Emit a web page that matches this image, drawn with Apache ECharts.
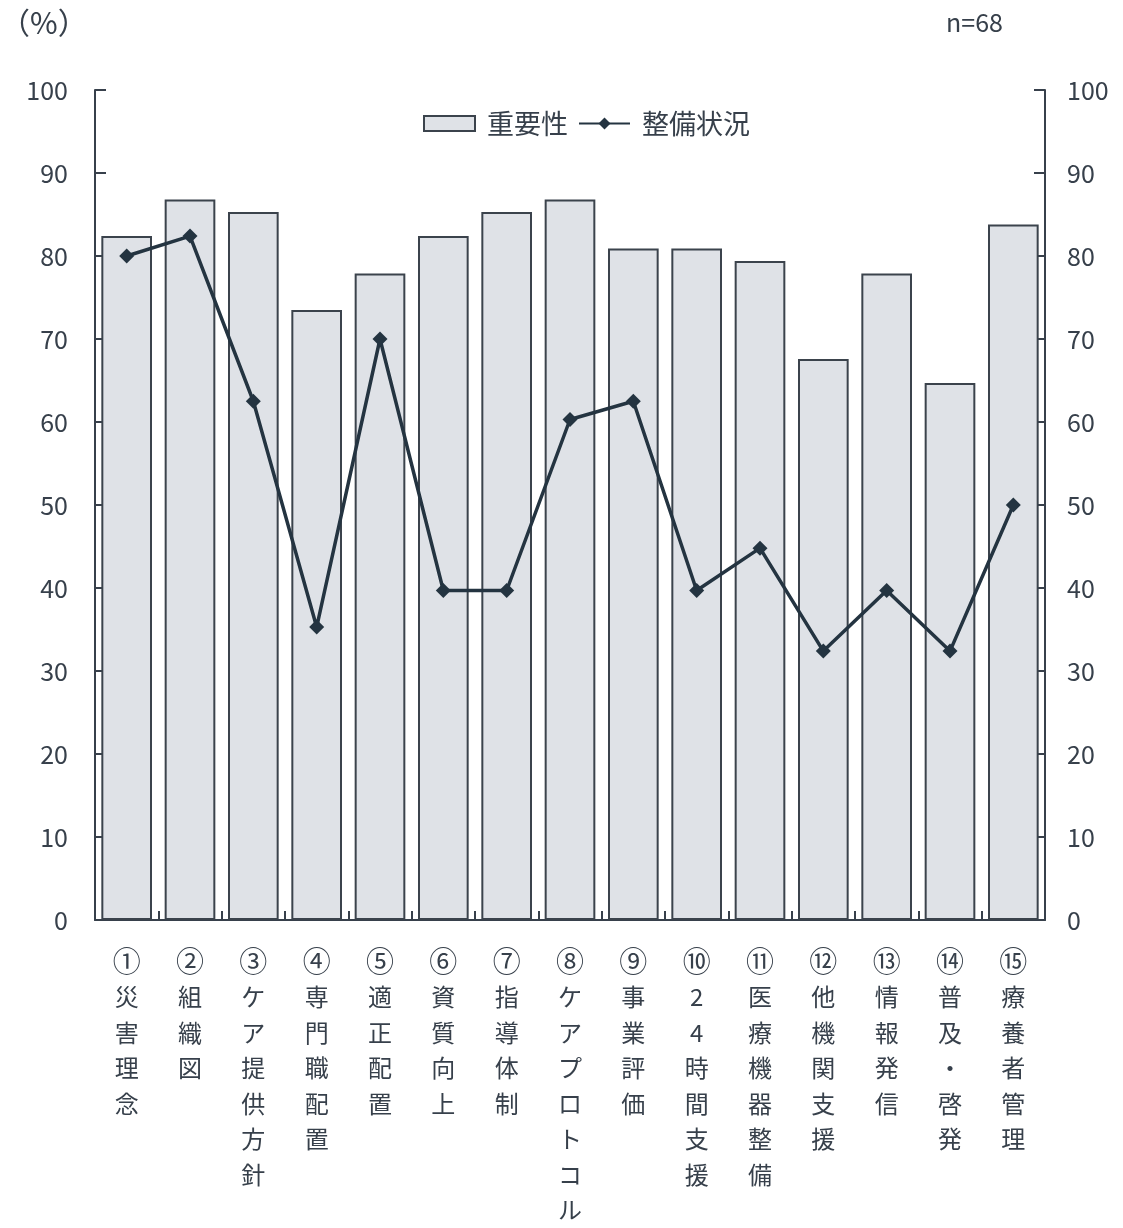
<!DOCTYPE html>
<html>
<head>
<meta charset="utf-8">
<script src="https://cdn.jsdelivr.net/npm/echarts@6/dist/echarts.min.js"></script>
<style>
  html, body { margin: 0; padding: 0; background: #ffffff; }
  #chart { width: 1123px; height: 1228px; }
</style>
</head>
<body>
<div id="chart"></div>
<script>
// Items surveyed (circled number + short title)
const itemNumbers = ['①', '②', '③', '④', '⑤', '⑥', '⑦', '⑧', '⑨', '⑩', '⑪', '⑫', '⑬', '⑭', '⑮'];
const itemTitles = [
  '災害理念', '組織図', 'ケア提供方針', '専門職配置', '適正配置',
  '資質向上', '指導体制', 'ケアプロトコル', '事業評価', '24時間支援',
  '医療機器整備', '他機関支援', '情報発信', '普及・啓発', '療養者管理'
];
const categories = itemNumbers.map((n, i) => n + itemTitles[i]);

// Importance (%), drawn as bars
const importance = [82.4, 86.8, 85.3, 73.5, 77.9, 82.4, 85.3, 86.8, 80.9, 80.9, 79.4, 67.6, 77.9, 64.7, 83.8];

// Implementation status (%), drawn as a line
const readiness = [80.0, 82.4, 62.5, 35.3, 70.0, 39.7, 39.7, 60.3, 62.5, 39.7, 44.8, 32.4, 39.7, 32.4, 50.0];

const seriesNames = ['重要性', '整備状況'];
const yTicks = { min: 0, max: 100, interval: 10 };
const unitLabel = '（%）';
const sampleLabel = 'n=68';

const ink = '#37404b';
const font = '"Noto Sans CJK JP", "Noto Sans", sans-serif';

const chart = echarts.init(document.getElementById('chart'), null, { renderer: 'canvas' });

// One glyph per line so each label reads top-to-bottom; the circled number is set larger
function verticalLabel(value) {
  const idx = categories.indexOf(value);
  const title = itemTitles[idx];
  return '{num|' + itemNumbers[idx] + '}\n' + title.split('').join('\n');
}

const valueAxis = (pos) => ({
  type: 'value',
  position: pos,
  min: yTicks.min,
  max: yTicks.max,
  interval: yTicks.interval,
  axisLine: { show: true, lineStyle: { color: ink, width: 2 } },
  axisTick: { show: true, inside: true, length: 11, lineStyle: { color: ink, width: 2 } },
  splitLine: { show: false },
  axisLabel: {
    color: ink,
    fontSize: 25,
    fontFamily: font,
    margin: pos === 'left' ? 27 : 22
  }
});

chart.setOption({
  animation: false,
  backgroundColor: '#ffffff',
  textStyle: { fontFamily: font, color: ink },
  grid: { left: 95, right: 78, top: 90, bottom: 307, containLabel: false },
  legend: {
    data: [
      { name: seriesNames[0], icon: 'rect' },
      { name: seriesNames[1] }
    ],
    left: 418,
    top: 105,
    itemGap: 10,
    itemWidth: 51,
    itemHeight: 15,
    textStyle: { fontSize: 27, color: ink, fontFamily: font, padding: [0, 0, 0, 7] }
  },
  graphic: [
    { type: 'text', left: 0, top: 8, style: { text: unitLabel, fontSize: 30, fill: ink, fontFamily: font } },
    { type: 'text', left: 946, top: 10, style: { text: sampleLabel, fontSize: 25, fill: ink, fontFamily: font } }
  ],
  xAxis: {
    type: 'category',
    data: categories,
    boundaryGap: true,
    axisLine: { show: true, lineStyle: { color: ink, width: 2 } },
    axisTick: { show: true, inside: true, length: 9, alignWithLabel: false, lineStyle: { color: ink, width: 2 } },
    axisLabel: {
      interval: 0,
      color: ink,
      fontSize: 24,
      fontFamily: font,
      lineHeight: 35.5,
      margin: 24,
      verticalAlign: 'top',
      formatter: verticalLabel,
      rich: {
        num: { fontSize: 28, lineHeight: 35.5, color: ink, fontFamily: font }
      }
    }
  },
  yAxis: [valueAxis('left'), valueAxis('right')],
  series: [
    {
      name: seriesNames[0],
      type: 'bar',
      data: importance,
      yAxisIndex: 0,
      barCategoryGap: '20%',
      itemStyle: { color: '#dfe2e7', borderColor: '#3b434c', borderWidth: 2 }
    },
    {
      name: seriesNames[1],
      type: 'line',
      data: readiness,
      yAxisIndex: 1,
      symbol: 'diamond',
      symbolSize: 15,
      lineStyle: { color: '#243441', width: 3.5 },
      itemStyle: { color: '#243441' }
    }
  ]
});
</script>
</body>
</html>
